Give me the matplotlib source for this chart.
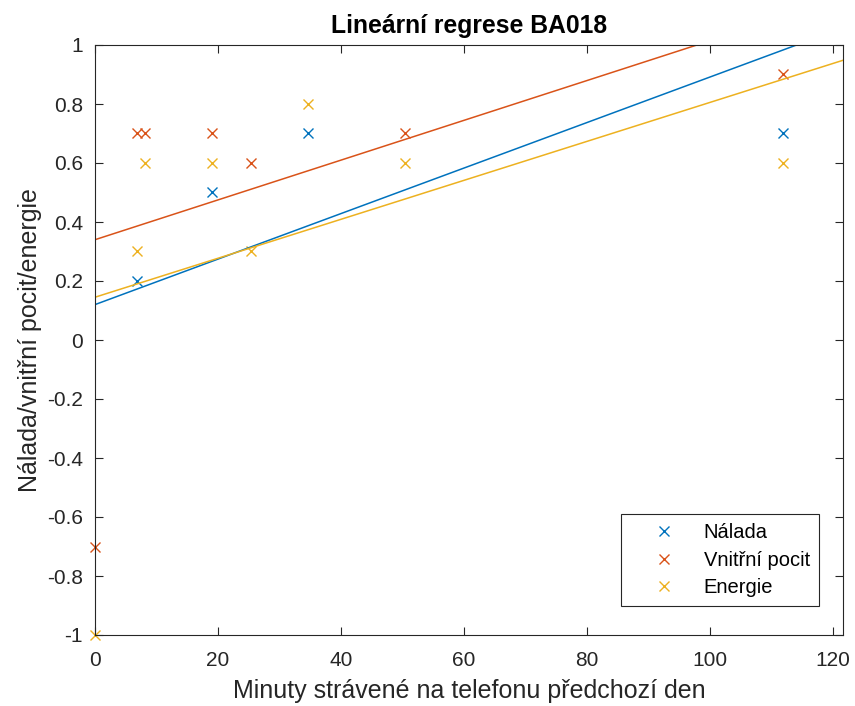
import matplotlib.pyplot as plt
import numpy as np

plt.rc('font', family=['Liberation Sans', 'DejaVu Sans'], size=14)

# data
minuty = [0, 6.8, 8.2, 19.1, 25.3, 34.6, 50.5, 111.9]
nalada_x = [6.8, 19.1, 34.6, 111.9]
nalada_y = [0.2, 0.5, 0.7, 0.7]
pocit_x = [0, 6.8, 8.2, 19.1, 25.3, 50.5, 111.9]
pocit_y = [-0.7, 0.7, 0.7, 0.7, 0.6, 0.7, 0.9]
energie_x = minuty
energie_y = [-1, 0.3, 0.6, 0.6, 0.3, 0.8, 0.6, 0.6]

# regression lines (intercept, slope)
nalada_fit = (0.12, 0.00771)
pocit_fit = (0.34, 0.00674)
energie_fit = (0.145, 0.0066)

barvy = ['#0072BD', '#D95319', '#EDB120']
xmax = 121.7

fig = plt.figure(figsize=(8.55, 7.06), dpi=100)
ax = fig.add_axes([95/855, 1-635/706, 748/855, 590/706])

ax.plot(nalada_x, nalada_y, 'x', color=barvy[0], ms=7, mew=1.0, label='Nálada', clip_on=False)
ax.plot(pocit_x, pocit_y, 'x', color=barvy[1], ms=7, mew=1.0, label='Vnitřní pocit', clip_on=False)
ax.plot(energie_x, energie_y, 'x', color=barvy[2], ms=7, mew=1.0, label='Energie', clip_on=False)

xx = np.array([0, xmax])
for fit, c in zip([nalada_fit, pocit_fit, energie_fit], barvy):
    ax.plot(xx, fit[0] + fit[1]*xx, '-', color=c, lw=1.1)

ax.set_xlim(0, xmax)
ax.set_ylim(-1, 1)
ax.set_xticks(np.arange(0, 121, 20))
ax.set_yticks(np.arange(-1, 1.01, 0.2))
ax.set_yticklabels(['-1', '-0.8', '-0.6', '-0.4', '-0.2', '0', '0.2', '0.4', '0.6', '0.8', '1'])
ax.tick_params(direction='in', top=True, right=True, colors='#262626', length=6, width=0.8,
               labelsize=15)
ax.tick_params(axis='x', pad=11.5)
ax.tick_params(axis='y', pad=8.6)
for s in ax.spines.values():
    s.set_color('#262626')
    s.set_linewidth(0.8)

ax.set_xlabel('Minuty strávené na telefonu předchozí den', fontsize=18, color='#262626')
ax.set_ylabel('Nálada/vnitřní pocit/energie', fontsize=18, color='#262626')
ax.xaxis.set_label_coords(0.5, -0.0739)
ax.yaxis.set_label_coords(-0.0709, 0.5)
ax.set_title('Lineární regrese BA018', fontsize=17.8, fontweight='bold', color='black', pad=8.5)

leg = ax.legend(loc='lower right', bbox_to_anchor=(0.968, 0.049), fancybox=False, framealpha=1,
                edgecolor='#262626', fontsize=14.5, handlelength=3.38, handletextpad=0.3,
                borderpad=0.45, labelspacing=0.42, borderaxespad=0)
leg.get_frame().set_linewidth(0.8)

plt.savefig('out.png', dpi=100)
